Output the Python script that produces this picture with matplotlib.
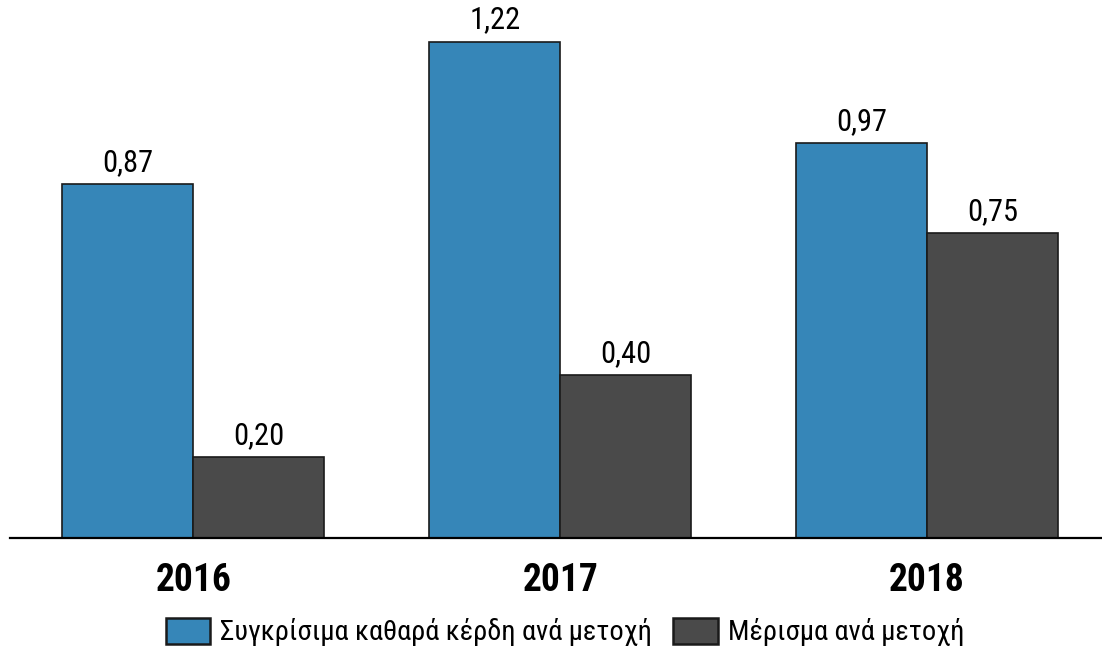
import matplotlib.pyplot as plt
import numpy as np
from matplotlib import font_manager

names = {f.name for f in font_manager.fontManager.ttflist}
family = 'Roboto Condensed' if 'Roboto Condensed' in names else 'Roboto'
plt.rcParams['font.family'] = [family, 'DejaVu Sans']

# Data
years = ['2016', '2017', '2018']
earnings = [0.87, 1.22, 0.97]
dividend = [0.20, 0.40, 0.75]
series_names = ['Συγκρίσιμα καθαρά κέρδη ανά μετοχή', 'Μέρισμα ανά μετοχή']

fig = plt.figure(figsize=(11.02, 6.49), dpi=100)
ax = fig.add_axes([10 / 1102, 111 / 649, 1092 / 1102, 538 / 649])

x = np.arange(len(years))
w = 0.357
b1 = ax.bar(x - w / 2, earnings, w, color='#3686b8', edgecolor='#1a1a1a', linewidth=1.2, label=series_names[0])
b2 = ax.bar(x + w / 2, dividend, w, color='#4a4a4a', edgecolor='#1a1a1a', linewidth=1.2, label=series_names[1])

for bars, vals in [(b1, earnings), (b2, dividend)]:
    ax.bar_label(bars, labels=[f'{v:.2f}'.replace('.', ',') for v in vals],
                 padding=5, fontsize=22, color='black')

ax.set_xlim(-0.5, 2.477)
ax.set_ylim(0, 1.322)
ax.set_xticks(x)
ax.set_xticklabels(years, fontsize=27, fontweight='bold')
ax.tick_params(axis='x', length=0, pad=17)
ax.set_yticks([])
for s in ['left', 'right', 'top']:
    ax.spines[s].set_visible(False)
ax.spines['bottom'].set_linewidth(1.6)

leg = fig.legend(loc='center', bbox_to_anchor=(565 / 1102, 1 - 632 / 649), ncol=2, frameon=False,
                 fontsize=20.5, handlelength=1.55, handleheight=1.05, handletextpad=0.36, columnspacing=0.75)
for h in leg.legend_handles:
    h.set_linewidth(1.8)

fig.savefig('out.png', dpi=100)
